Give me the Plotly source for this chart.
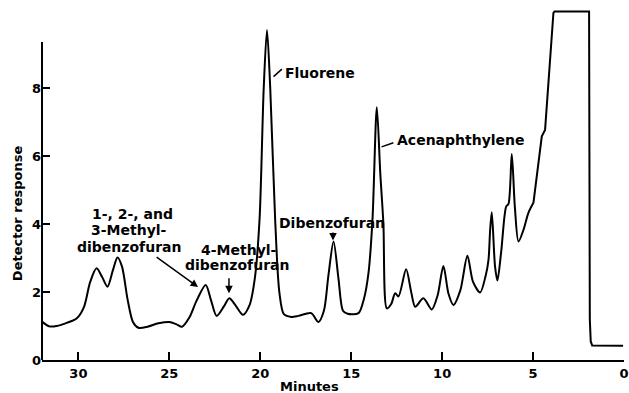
import plotly.graph_objects as go

# Chromatogram trace (minutes, detector response)
minutes = [32.0, 31.6, 31.2, 30.6, 30.1, 29.7, 29.35, 29.0, 28.7, 28.4, 28.1, 27.85, 27.6, 27.3,
           27.0, 26.7, 26.2, 25.6, 25.0, 24.6, 24.3, 23.9, 23.5, 23.0, 22.7, 22.4, 22.0, 21.7,
           21.35, 20.95, 20.6, 20.3, 20.04, 19.81, 19.63, 19.45, 19.18, 18.95, 18.7, 18.3,
           17.9, 17.2, 16.8, 16.5, 16.25, 15.97, 15.7, 15.45, 15.2, 14.6, 14.3, 14.05, 13.83,
           13.59, 13.4, 13.23, 13.04, 12.8, 12.58, 12.4, 11.98, 11.7, 11.48, 11.03, 10.57,
           10.25, 9.93, 9.65, 9.38, 9.0, 8.61, 8.3, 7.91, 7.6, 7.45, 7.36, 7.27, 7.09, 6.96,
           6.75, 6.48, 6.35, 6.17, 6.0, 5.8, 5.53, 5.26, 4.98]
response = [1.13, 0.99, 1.00, 1.10, 1.22, 1.55, 2.3, 2.70, 2.45, 2.16, 2.65, 3.02, 2.75, 1.8,
            1.12, 0.95, 0.98, 1.08, 1.12, 1.05, 0.98, 1.25, 1.75, 2.21, 1.75, 1.30, 1.58, 1.82,
            1.6, 1.33, 1.6, 2.4, 4.13, 8.0, 9.72, 8.0, 4.13, 2.0, 1.35, 1.27,
            1.30, 1.38, 1.12, 1.45, 2.5, 3.49, 2.4, 1.45, 1.36, 1.38, 1.8, 2.56, 4.13,
            7.45, 5.5, 4.03, 1.52, 1.65, 1.97, 1.87, 2.67, 2.0, 1.57, 1.82, 1.49,
            1.9, 2.77, 1.95, 1.62, 2.05, 3.07, 2.3, 1.99, 2.5, 2.95, 3.83, 4.35, 2.75, 2.34,
            3.2, 4.52, 4.6, 6.07, 4.5, 3.49, 3.83, 4.33, 4.63]

# Solvent front / off-scale segment (straight pen strokes)
front_minutes = [4.98, 4.52, 4.34, 3.88, 3.82, 1.92, 1.88, 1.83, 1.75, 0.05]
front_response = [4.63, 6.59, 6.78, 10.23, 10.27, 10.27, 1.2, 0.55, 0.43, 0.42]

x_ticks = [30, 25, 20, 15, 10, 5, 0]
y_ticks = [0, 2, 4, 6, 8]

FONT = "DejaVu Sans"

fig = go.Figure()
fig.add_trace(go.Scatter(x=minutes, y=response, mode="lines",
                         line=dict(color="black", width=2, shape="spline", smoothing=0.8),
                         hoverinfo="skip", showlegend=False))
fig.add_trace(go.Scatter(x=front_minutes, y=front_response, mode="lines",
                         line=dict(color="black", width=2),
                         hoverinfo="skip", showlegend=False))

fig.update_layout(
    width=629, height=393,
    margin=dict(l=42, r=5, t=7, b=33),
    paper_bgcolor="white", plot_bgcolor="white",
    font=dict(family=FONT, color="black"),
    xaxis=dict(range=[32, 0], tickvals=x_ticks, ticks="inside", ticklen=8, tickwidth=2,
               tickcolor="black", showline=True, linewidth=2, linecolor="black",
               showgrid=False, zeroline=False, automargin=False,
               tickfont=dict(family=FONT, size=13, weight="bold", color="black")),
    yaxis=dict(range=[0, 10.4], tickvals=y_ticks, ticks="inside", ticklen=8, tickwidth=2,
               tickcolor="black", showline=False, showgrid=False, zeroline=False,
               automargin=False,
               tickfont=dict(family=FONT, size=13, weight="bold", color="black")),
)

# y-axis line stopping short of top
fig.add_shape(type="line", xref="paper", yref="y", x0=0, x1=0, y0=0, y1=9.37,
              line=dict(color="black", width=2))

bold = dict(family=FONT, size=14, weight="bold", color="black")
labels = [
    ("1-, 2-, and", 27.02, 4.29, "center"),
    ("3-Methyl-", 27.21, 3.83, "center"),
    ("dibenzofuran", 27.21, 3.34, "center"),
    ("4-Methyl-", 21.17, 3.24, "center"),
    ("dibenzofuran", 21.29, 2.80, "center"),
    ("Dibenzofuran", 16.03, 4.03, "center"),
    ("Fluorene", 18.73, 8.45, "left"),
    ("Acenaphthylene", 12.59, 6.48, "left"),
]
for txt, x, y, anc in labels:
    fig.add_annotation(text=txt, x=x, y=y, xref="x", yref="y", showarrow=False,
                       xanchor=anc, yanchor="middle", font=bold)

# arrows
arrows = [
    (25.78, 3.06, 23.42, 2.15),
    (21.72, 2.45, 21.72, 1.97),
    (16.0, 3.80, 16.0, 3.52),
]
for ax, ay, x, y in arrows:
    fig.add_annotation(x=x, y=y, ax=ax, ay=ay, xref="x", yref="y", axref="x", ayref="y",
                       text="", showarrow=True, arrowhead=2, arrowsize=1, arrowwidth=1.5,
                       arrowcolor="black", standoff=0)

# leader lines
for x0, y0, x1, y1 in [(19.27, 8.35, 18.81, 8.57), (13.33, 6.28, 12.68, 6.40)]:
    fig.add_shape(type="line", xref="x", yref="y", x0=x0, y0=y0, x1=x1, y1=y1,
                  line=dict(color="black", width=1.5))

# axis titles
fig.add_annotation(text="Minutes", x=17.3, y=-0.048, xref="x", yref="paper",
                   showarrow=False, xanchor="center", yanchor="top",
                   font=dict(family=FONT, size=13, weight="bold", color="black"))
fig.add_annotation(text="Detector response", x=-0.043, y=0.416, xref="paper", yref="paper",
                   showarrow=False, textangle=-90, xanchor="center", yanchor="middle",
                   font=dict(family=FONT, size=13, weight="bold", color="black"))

fig.write_html("out.html", config={"displayModeBar": False},
               post_script="document.body.style.margin='0';")
